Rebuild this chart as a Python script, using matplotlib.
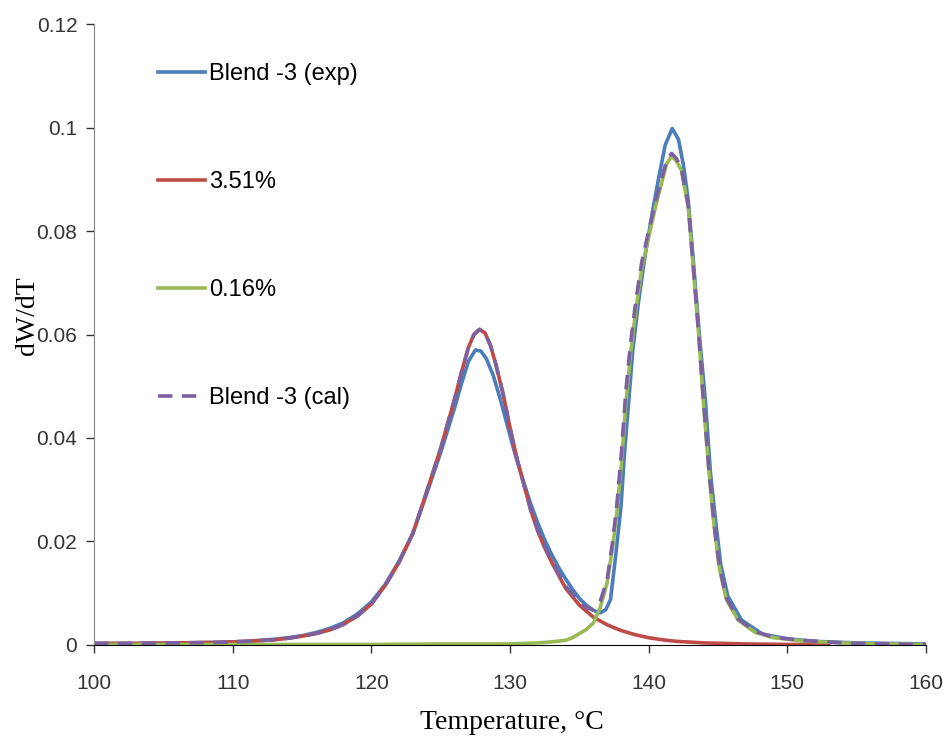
import matplotlib
matplotlib.use("Agg")
import matplotlib.pyplot as plt

# ---- data ----
# Blend -3 (exp)
t_exp = [100, 103, 106, 109, 111, 113, 114, 115, 116, 117, 118, 119, 120, 121, 122, 123, 124, 125, 126,
         126.5, 127, 127.5, 127.9, 128.3, 128.8, 129.3, 129.8, 130.3, 130.8, 131.5, 132, 132.5, 133, 133.5,
         134, 134.5, 135, 135.5, 136, 136.5, 136.9, 137.25, 137.6, 138.0, 138.25, 138.55, 138.85, 139.25,
         139.75, 140.25, 140.75, 141.2, 141.7, 142.15, 142.5, 142.85, 143.2, 143.65, 144.1, 144.45, 144.85,
         145.2, 145.7, 146.7, 148.2, 150, 152, 155, 160]
v_exp = [0.0003, 0.0003, 0.0004, 0.0005, 0.0007, 0.0011, 0.0014, 0.0018, 0.0024, 0.0032, 0.0043, 0.0060,
         0.0083, 0.0117, 0.0162, 0.0216, 0.0293, 0.0372, 0.0458, 0.0505, 0.0548, 0.0570, 0.0568, 0.0553,
         0.0520, 0.0475, 0.0425, 0.0375, 0.0330, 0.0272, 0.0236, 0.0203, 0.0175, 0.0150, 0.0128, 0.0108,
         0.0090, 0.0077, 0.0067, 0.0062, 0.0068, 0.0088, 0.0168, 0.0267, 0.0368, 0.0468, 0.0568, 0.0660,
         0.0754, 0.0834, 0.0907, 0.0967, 0.0998, 0.0977, 0.0928, 0.0860, 0.0748, 0.0601, 0.0468, 0.0334,
         0.0234, 0.0155, 0.0095, 0.0048, 0.0021, 0.0012, 0.0007, 0.0004, 0.0002]

# 3.51%
t_351 = [100, 103, 106, 109, 111, 113, 114, 115, 116, 117, 118, 119, 120, 121, 122, 123, 124, 125, 126,
         126.5, 127, 127.4, 127.8, 128.2, 128.6, 129, 129.5, 130, 130.5, 131, 131.5, 132, 132.5, 133, 133.5,
         134, 135, 136, 137, 138, 139, 140, 141, 142, 144, 147, 150, 153]
v_351 = [0.0003, 0.0003, 0.0004, 0.0005, 0.0007, 0.0010, 0.0013, 0.0017, 0.0022, 0.0029, 0.0040, 0.0056,
         0.0079, 0.0115, 0.0160, 0.0216, 0.0297, 0.0380, 0.0475, 0.0527, 0.0575, 0.0600, 0.0610, 0.0603,
         0.0578, 0.0540, 0.0485, 0.0420, 0.0360, 0.0310, 0.0260, 0.0220, 0.0188, 0.0160, 0.0135, 0.0110,
         0.0077, 0.0054, 0.0039, 0.0028, 0.0020, 0.0014, 0.0010, 0.0007, 0.0004, 0.0002, 0.0001, 0.0001]

# 0.16%
t_016 = [100, 110, 120, 125, 130, 132, 133, 134, 134.5, 135, 135.5, 136, 136.5, 137, 137.4, 137.7, 138.0,
         138.35, 138.7, 139.1, 139.5, 140.0, 140.5, 141.0, 141.3, 141.65, 142.0, 142.35, 142.85, 143.2,
         143.6, 143.95, 144.35, 144.7, 145.1, 145.6, 146.45, 147.7, 149, 151, 154, 157, 160]
v_016 = [0.0001, 0.0001, 0.0001, 0.0002, 0.0002, 0.0004, 0.0006, 0.0009, 0.0014, 0.0022, 0.0030, 0.0042,
         0.0072, 0.0120, 0.0190, 0.0255, 0.0340, 0.0465, 0.0565, 0.0652, 0.0727, 0.0788, 0.0848, 0.0900,
         0.0930, 0.0945, 0.0935, 0.0918, 0.0847, 0.0734, 0.0601, 0.0468, 0.0334, 0.0234, 0.0148, 0.0088,
         0.0048, 0.0024, 0.0014, 0.0008, 0.0004, 0.0002, 0.0001]

# Blend -3 (cal)
t_cal = [100, 103, 106, 109, 111, 113, 114, 115, 116, 117, 118, 119, 120, 121, 122, 123, 124, 125, 126,
         126.5, 127, 127.4, 127.8, 128.2, 128.6, 129, 129.5, 130, 130.5, 131, 131.5, 132, 132.5, 133, 133.5,
         134, 135, 135.5, 136, 136.5, 137, 137.4, 137.7, 138.0, 138.35, 138.7, 139.1, 139.5, 140, 140.5,
         141, 141.3, 141.65, 142.0, 142.35, 142.85, 143.2, 143.6, 143.95, 144.35, 144.7, 145.1, 145.6,
         146.45, 147.7, 149, 151, 154, 157, 160]
v_cal = [0.0003, 0.0003, 0.0004, 0.0005, 0.0007, 0.0010, 0.0013, 0.0017, 0.0022, 0.0029, 0.0040, 0.0056,
         0.0079, 0.0115, 0.0160, 0.0216, 0.0297, 0.0380, 0.0475, 0.0527, 0.0575, 0.0600, 0.0610, 0.0603,
         0.0578, 0.0540, 0.0485, 0.0420, 0.0360, 0.0310, 0.0260, 0.0222, 0.0190, 0.0163, 0.0138, 0.0114,
         0.0083, 0.0072, 0.0068, 0.0084, 0.0125, 0.0200, 0.0270, 0.0360, 0.0490, 0.0585, 0.0670, 0.0740,
         0.0800, 0.0857, 0.0908, 0.0937, 0.0950, 0.0940, 0.0922, 0.0850, 0.0737, 0.0604, 0.0471, 0.0337,
         0.0237, 0.0151, 0.0091, 0.0050, 0.0026, 0.0015, 0.0009, 0.0004, 0.0002, 0.0001]

labels = ["Blend -3 (exp)", "3.51%", "0.16%", "Blend -3 (cal)"]
x_ticks = [100, 110, 120, 130, 140, 150, 160]
y_ticks = [0, 0.02, 0.04, 0.06, 0.08, 0.1, 0.12]
y_tick_labels = ["0", "0.02", "0.04", "0.06", "0.08", "0.1", "0.12"]

# ---- plot ----
sans = ["Liberation Sans Narrow", "Liberation Sans", "DejaVu Sans"]
serif = ["Liberation Serif", "DejaVu Serif"]

fig = plt.figure(figsize=(9.43, 7.44), dpi=100)
ax = fig.add_axes([0.0997, 0.1331, 0.8823, 0.8346])

lw = 2.6
ax.plot(t_exp, v_exp, color="#4A7EBB", lw=lw, label=labels[0])
ax.plot(t_351, v_351, color="#BE4B48", lw=lw, label=labels[1])
ax.plot(t_016, v_016, color="#98B954", lw=lw, label=labels[2])
ax.plot(t_cal, v_cal, color="#7D60A0", lw=lw, dashes=(4, 2.6), label=labels[3])

ax.set_xlim(100, 160)
ax.set_ylim(0, 0.12)
ax.set_xticks(x_ticks)
ax.set_xticklabels([str(t) for t in x_ticks], family=sans, fontsize=15)
ax.set_yticks(y_ticks)
ax.set_yticklabels(y_tick_labels, family=sans, fontsize=15)
ax.tick_params(direction="out", length=6, width=1, colors="#333333")
ax.tick_params(axis="x", pad=15)
ax.tick_params(axis="y", pad=6)

for s in ["top", "right"]:
    ax.spines[s].set_visible(False)
ax.spines["left"].set_color("#868686")
ax.spines["bottom"].set_color("black")

ax.set_xlabel("Temperature, °C", family=serif, fontsize=20)
ax.xaxis.set_label_coords(0.502, -0.1047)
ax.set_ylabel("dW/dT", family=serif, fontsize=20)
ax.yaxis.set_label_coords(-0.065, 0.531)

leg = ax.legend(loc="upper left", bbox_to_anchor=(0.065, 0.9517), frameon=False,
                prop={"family": sans, "size": 17}, labelspacing=3.64,
                handlelength=2.0, handletextpad=0.2, borderaxespad=0)

fig.savefig("out.png", dpi=100)
